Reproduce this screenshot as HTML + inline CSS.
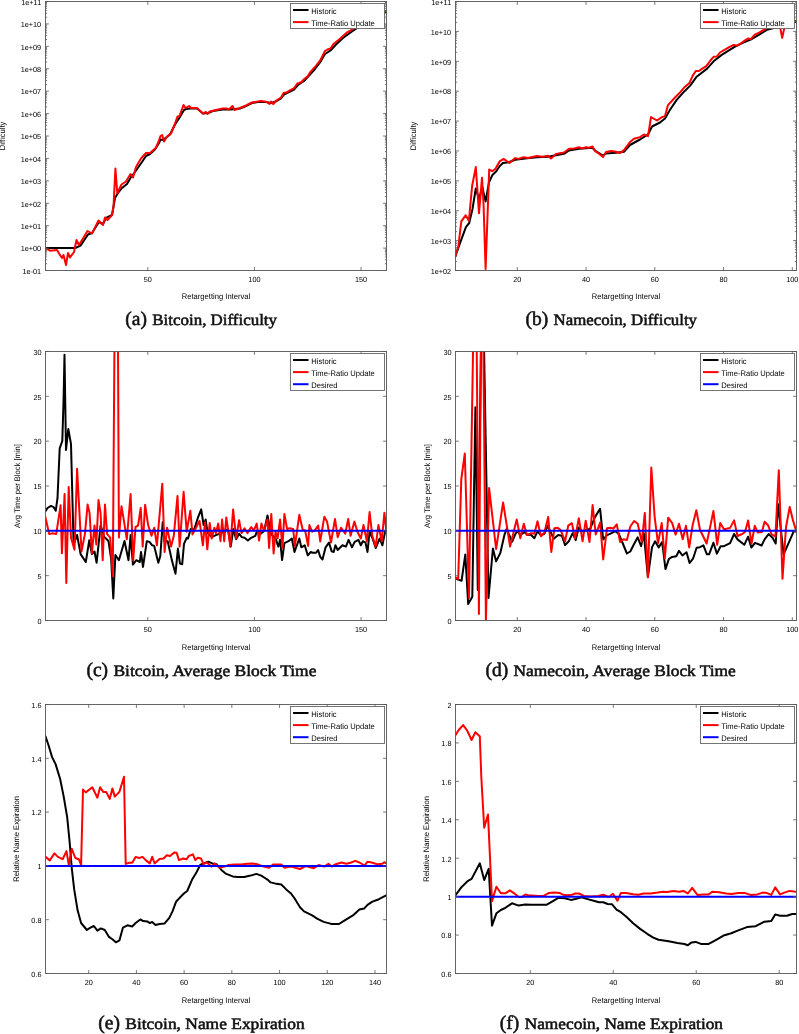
<!DOCTYPE html><html><head><meta charset="utf-8"><style>html,body{margin:0;padding:0;background:#fff;}svg{display:block;will-change:transform}text{font-family:"Liberation Sans",sans-serif;text-rendering:geometricPrecision}</style></head><body>
<svg width="799" height="1034" viewBox="0 0 799 1034">
<rect width="799" height="1034" fill="#fff"/>
<clipPath id="clipa"><rect x="45.5" y="1.5" width="341.0" height="269.0"/></clipPath>
<text x="41.20" y="273.80" font-size="7.4" text-anchor="end" textLength="18.67" lengthAdjust="spacingAndGlyphs" fill="#000">1e-01</text>
<text x="41.20" y="251.38" font-size="7.4" text-anchor="end" textLength="20.50" lengthAdjust="spacingAndGlyphs" fill="#000">1e+00</text>
<text x="41.20" y="228.97" font-size="7.4" text-anchor="end" textLength="20.50" lengthAdjust="spacingAndGlyphs" fill="#000">1e+01</text>
<text x="41.20" y="206.55" font-size="7.4" text-anchor="end" textLength="20.50" lengthAdjust="spacingAndGlyphs" fill="#000">1e+02</text>
<text x="41.20" y="184.13" font-size="7.4" text-anchor="end" textLength="20.50" lengthAdjust="spacingAndGlyphs" fill="#000">1e+03</text>
<text x="41.20" y="161.72" font-size="7.4" text-anchor="end" textLength="20.50" lengthAdjust="spacingAndGlyphs" fill="#000">1e+04</text>
<text x="41.20" y="139.30" font-size="7.4" text-anchor="end" textLength="20.50" lengthAdjust="spacingAndGlyphs" fill="#000">1e+05</text>
<text x="41.20" y="116.88" font-size="7.4" text-anchor="end" textLength="20.50" lengthAdjust="spacingAndGlyphs" fill="#000">1e+06</text>
<text x="41.20" y="94.47" font-size="7.4" text-anchor="end" textLength="20.50" lengthAdjust="spacingAndGlyphs" fill="#000">1e+07</text>
<text x="41.20" y="72.05" font-size="7.4" text-anchor="end" textLength="20.50" lengthAdjust="spacingAndGlyphs" fill="#000">1e+08</text>
<text x="41.20" y="49.63" font-size="7.4" text-anchor="end" textLength="20.50" lengthAdjust="spacingAndGlyphs" fill="#000">1e+09</text>
<text x="41.20" y="27.22" font-size="7.4" text-anchor="end" textLength="20.50" lengthAdjust="spacingAndGlyphs" fill="#000">1e+10</text>
<text x="41.20" y="4.80" font-size="7.4" text-anchor="end" textLength="19.96" lengthAdjust="spacingAndGlyphs" fill="#000">1e+11</text>
<text x="147.80" y="282.40" font-size="7.4" text-anchor="middle" textLength="8.12" lengthAdjust="spacingAndGlyphs" fill="#000">50</text>
<text x="254.43" y="282.40" font-size="7.4" text-anchor="middle" textLength="12.18" lengthAdjust="spacingAndGlyphs" fill="#000">100</text>
<text x="361.05" y="282.40" font-size="7.4" text-anchor="middle" textLength="12.18" lengthAdjust="spacingAndGlyphs" fill="#000">150</text>
<text x="216.00" y="298.60" font-size="8.0" text-anchor="middle" textLength="68.43" lengthAdjust="spacingAndGlyphs" fill="#000">Retargetting Interval</text>
<text transform="translate(5.1,136.00) rotate(-90)" font-size="8.0" text-anchor="middle" textLength="28.58" lengthAdjust="spacingAndGlyphs" fill="#000">Difficulty</text>
<g clip-path="url(#clipa)" fill="none" stroke-width="2" stroke-linejoin="round" stroke-linecap="round"><polyline stroke="#000" points="45.3,248.0 75.3,248.0 80.5,245.6 88.0,234.5 92.0,233.0 99.0,222.0 103.0,224.0 106.0,218.0 112.0,215.0 115.0,198.0 118.0,193.0 122.0,188.0 127.0,184.0 131.0,177.0 135.0,172.0 142.0,162.0 146.0,156.0 150.0,154.0 155.0,149.5 159.0,143.0 160.5,139.5 163.0,140.0 170.0,134.5 175.0,124.5 179.0,118.5 184.0,110.0 186.0,109.0 190.0,108.5 197.0,108.5 203.0,113.5 208.0,113.0 213.0,111.0 222.5,109.5 230.0,109.5 240.0,108.5 246.0,106.0 252.0,103.0 258.0,102.0 266.0,102.0 271.0,103.0 276.0,101.5 281.0,98.5 284.0,94.5 290.0,91.5 294.0,89.5 298.0,85.0 304.0,81.0 310.0,74.5 315.0,69.0 320.0,62.5 325.0,54.0 330.5,50.5 336.0,44.5 343.0,38.0 350.5,32.5 355.0,29.5 370.0,19.0 386.5,11.5"/><polyline stroke="#f00" points="45.3,248.0 50.0,250.7 57.0,250.0 60.0,255.0 62.0,258.0 63.5,255.0 66.0,265.0 68.0,253.0 70.0,257.5 74.0,252.0 76.5,240.0 79.0,245.0 87.5,231.0 92.0,233.5 98.5,220.5 103.0,225.0 105.0,217.5 107.5,220.0 112.0,215.0 113.5,207.0 115.4,168.5 117.3,193.3 121.5,184.5 126.0,181.5 130.5,174.0 133.0,177.5 136.0,167.0 141.0,158.5 146.0,153.0 150.0,153.0 155.7,148.0 158.0,143.0 160.5,136.0 162.2,135.0 164.0,141.5 167.0,136.5 171.0,133.5 174.5,125.0 177.5,116.5 179.5,116.0 183.5,105.0 185.5,108.0 189.0,106.0 191.0,108.0 197.0,108.0 203.0,113.5 206.0,112.0 207.5,114.0 210.0,111.5 216.0,110.0 222.5,108.5 226.5,108.5 229.0,109.5 232.5,106.0 234.5,110.0 240.0,108.0 246.0,105.5 252.0,102.5 258.0,101.5 261.0,101.0 266.3,101.7 269.5,104.0 271.0,101.5 273.3,104.0 276.3,100.5 281.0,97.6 283.8,92.7 286.3,92.7 290.0,90.3 294.0,88.2 297.3,83.5 299.0,83.0 301.5,82.0 304.0,79.3 308.0,76.0 310.0,72.4 315.0,67.0 320.0,60.7 323.0,55.0 325.0,51.0 327.5,49.5 330.5,48.5 333.5,44.0 336.0,42.0 340.0,38.7 343.0,36.0 347.0,32.5 350.5,30.6 353.0,28.5 360.0,24.0 370.0,18.0 380.0,13.0 386.5,11.0"/></g>
<path d="M45.5,270.50h3.4M386.5,270.50h-3.4M45.5,263.75h1.6M386.5,263.75h-1.6M45.5,259.80h1.6M386.5,259.80h-1.6M45.5,257.00h1.6M386.5,257.00h-1.6M45.5,254.83h1.6M386.5,254.83h-1.6M45.5,253.06h1.6M386.5,253.06h-1.6M45.5,251.56h1.6M386.5,251.56h-1.6M45.5,250.26h1.6M386.5,250.26h-1.6M45.5,249.11h1.6M386.5,249.11h-1.6M45.5,248.08h3.4M386.5,248.08h-3.4M45.5,241.34h1.6M386.5,241.34h-1.6M45.5,237.39h1.6M386.5,237.39h-1.6M45.5,234.59h1.6M386.5,234.59h-1.6M45.5,232.41h1.6M386.5,232.41h-1.6M45.5,230.64h1.6M386.5,230.64h-1.6M45.5,229.14h1.6M386.5,229.14h-1.6M45.5,227.84h1.6M386.5,227.84h-1.6M45.5,226.69h1.6M386.5,226.69h-1.6M45.5,225.67h3.4M386.5,225.67h-3.4M45.5,218.92h1.6M386.5,218.92h-1.6M45.5,214.97h1.6M386.5,214.97h-1.6M45.5,212.17h1.6M386.5,212.17h-1.6M45.5,210.00h1.6M386.5,210.00h-1.6M45.5,208.22h1.6M386.5,208.22h-1.6M45.5,206.72h1.6M386.5,206.72h-1.6M45.5,205.42h1.6M386.5,205.42h-1.6M45.5,204.28h1.6M386.5,204.28h-1.6M45.5,203.25h3.4M386.5,203.25h-3.4M45.5,196.50h1.6M386.5,196.50h-1.6M45.5,192.55h1.6M386.5,192.55h-1.6M45.5,189.75h1.6M386.5,189.75h-1.6M45.5,187.58h1.6M386.5,187.58h-1.6M45.5,185.81h1.6M386.5,185.81h-1.6M45.5,184.31h1.6M386.5,184.31h-1.6M45.5,183.01h1.6M386.5,183.01h-1.6M45.5,181.86h1.6M386.5,181.86h-1.6M45.5,180.83h3.4M386.5,180.83h-3.4M45.5,174.09h1.6M386.5,174.09h-1.6M45.5,170.14h1.6M386.5,170.14h-1.6M45.5,167.34h1.6M386.5,167.34h-1.6M45.5,165.16h1.6M386.5,165.16h-1.6M45.5,163.39h1.6M386.5,163.39h-1.6M45.5,161.89h1.6M386.5,161.89h-1.6M45.5,160.59h1.6M386.5,160.59h-1.6M45.5,159.44h1.6M386.5,159.44h-1.6M45.5,158.42h3.4M386.5,158.42h-3.4M45.5,151.67h1.6M386.5,151.67h-1.6M45.5,147.72h1.6M386.5,147.72h-1.6M45.5,144.92h1.6M386.5,144.92h-1.6M45.5,142.75h1.6M386.5,142.75h-1.6M45.5,140.97h1.6M386.5,140.97h-1.6M45.5,139.47h1.6M386.5,139.47h-1.6M45.5,138.17h1.6M386.5,138.17h-1.6M45.5,137.03h1.6M386.5,137.03h-1.6M45.5,136.00h3.4M386.5,136.00h-3.4M45.5,129.25h1.6M386.5,129.25h-1.6M45.5,125.30h1.6M386.5,125.30h-1.6M45.5,122.50h1.6M386.5,122.50h-1.6M45.5,120.33h1.6M386.5,120.33h-1.6M45.5,118.56h1.6M386.5,118.56h-1.6M45.5,117.06h1.6M386.5,117.06h-1.6M45.5,115.76h1.6M386.5,115.76h-1.6M45.5,114.61h1.6M386.5,114.61h-1.6M45.5,113.58h3.4M386.5,113.58h-3.4M45.5,106.84h1.6M386.5,106.84h-1.6M45.5,102.89h1.6M386.5,102.89h-1.6M45.5,100.09h1.6M386.5,100.09h-1.6M45.5,97.91h1.6M386.5,97.91h-1.6M45.5,96.14h1.6M386.5,96.14h-1.6M45.5,94.64h1.6M386.5,94.64h-1.6M45.5,93.34h1.6M386.5,93.34h-1.6M45.5,92.19h1.6M386.5,92.19h-1.6M45.5,91.17h3.4M386.5,91.17h-3.4M45.5,84.42h1.6M386.5,84.42h-1.6M45.5,80.47h1.6M386.5,80.47h-1.6M45.5,77.67h1.6M386.5,77.67h-1.6M45.5,75.50h1.6M386.5,75.50h-1.6M45.5,73.72h1.6M386.5,73.72h-1.6M45.5,72.22h1.6M386.5,72.22h-1.6M45.5,70.92h1.6M386.5,70.92h-1.6M45.5,69.78h1.6M386.5,69.78h-1.6M45.5,68.75h3.4M386.5,68.75h-3.4M45.5,62.00h1.6M386.5,62.00h-1.6M45.5,58.05h1.6M386.5,58.05h-1.6M45.5,55.25h1.6M386.5,55.25h-1.6M45.5,53.08h1.6M386.5,53.08h-1.6M45.5,51.31h1.6M386.5,51.31h-1.6M45.5,49.81h1.6M386.5,49.81h-1.6M45.5,48.51h1.6M386.5,48.51h-1.6M45.5,47.36h1.6M386.5,47.36h-1.6M45.5,46.33h3.4M386.5,46.33h-3.4M45.5,39.59h1.6M386.5,39.59h-1.6M45.5,35.64h1.6M386.5,35.64h-1.6M45.5,32.84h1.6M386.5,32.84h-1.6M45.5,30.66h1.6M386.5,30.66h-1.6M45.5,28.89h1.6M386.5,28.89h-1.6M45.5,27.39h1.6M386.5,27.39h-1.6M45.5,26.09h1.6M386.5,26.09h-1.6M45.5,24.94h1.6M386.5,24.94h-1.6M45.5,23.92h3.4M386.5,23.92h-3.4M45.5,17.17h1.6M386.5,17.17h-1.6M45.5,13.22h1.6M386.5,13.22h-1.6M45.5,10.42h1.6M386.5,10.42h-1.6M45.5,8.25h1.6M386.5,8.25h-1.6M45.5,6.47h1.6M386.5,6.47h-1.6M45.5,4.97h1.6M386.5,4.97h-1.6M45.5,3.67h1.6M386.5,3.67h-1.6M45.5,2.53h1.6M386.5,2.53h-1.6M45.5,1.50h3.4M386.5,1.50h-3.4M147.80,270.5v-3.4M147.80,1.5v3.4M254.43,270.5v-3.4M254.43,1.5v3.4M361.05,270.5v-3.4M361.05,1.5v3.4" stroke="#555" stroke-width="0.8" fill="none"/>
<rect x="45.5" y="1.5" width="341.0" height="269.0" fill="none" stroke="#555" stroke-width="0.9"/>
<rect x="290.5" y="3.5" width="94.0" height="25.0" fill="#fff" stroke="#666" stroke-width="0.9"/>
<line x1="293.0" y1="10.00" x2="308.5" y2="10.00" stroke="#000" stroke-width="2"/>
<text x="311.30" y="13.50" font-size="8.0" text-anchor="start" textLength="25.33" lengthAdjust="spacingAndGlyphs" fill="#000">Historic</text>
<line x1="293.0" y1="22.10" x2="308.5" y2="22.10" stroke="#f00" stroke-width="2"/>
<text x="311.30" y="25.60" font-size="8.0" text-anchor="start" textLength="63.49" lengthAdjust="spacingAndGlyphs" fill="#000">Time-Ratio Update</text>
<clipPath id="clipb"><rect x="455.5" y="1.5" width="341.0" height="269.0"/></clipPath>
<text x="451.20" y="273.80" font-size="7.4" text-anchor="end" textLength="20.50" lengthAdjust="spacingAndGlyphs" fill="#000">1e+02</text>
<text x="451.20" y="243.91" font-size="7.4" text-anchor="end" textLength="20.50" lengthAdjust="spacingAndGlyphs" fill="#000">1e+03</text>
<text x="451.20" y="214.02" font-size="7.4" text-anchor="end" textLength="20.50" lengthAdjust="spacingAndGlyphs" fill="#000">1e+04</text>
<text x="451.20" y="184.13" font-size="7.4" text-anchor="end" textLength="20.50" lengthAdjust="spacingAndGlyphs" fill="#000">1e+05</text>
<text x="451.20" y="154.24" font-size="7.4" text-anchor="end" textLength="20.50" lengthAdjust="spacingAndGlyphs" fill="#000">1e+06</text>
<text x="451.20" y="124.36" font-size="7.4" text-anchor="end" textLength="20.50" lengthAdjust="spacingAndGlyphs" fill="#000">1e+07</text>
<text x="451.20" y="94.47" font-size="7.4" text-anchor="end" textLength="20.50" lengthAdjust="spacingAndGlyphs" fill="#000">1e+08</text>
<text x="451.20" y="64.58" font-size="7.4" text-anchor="end" textLength="20.50" lengthAdjust="spacingAndGlyphs" fill="#000">1e+09</text>
<text x="451.20" y="34.69" font-size="7.4" text-anchor="end" textLength="20.50" lengthAdjust="spacingAndGlyphs" fill="#000">1e+10</text>
<text x="451.20" y="4.80" font-size="7.4" text-anchor="end" textLength="19.96" lengthAdjust="spacingAndGlyphs" fill="#000">1e+11</text>
<text x="517.30" y="282.40" font-size="7.4" text-anchor="middle" textLength="8.12" lengthAdjust="spacingAndGlyphs" fill="#000">20</text>
<text x="586.05" y="282.40" font-size="7.4" text-anchor="middle" textLength="8.12" lengthAdjust="spacingAndGlyphs" fill="#000">40</text>
<text x="654.80" y="282.40" font-size="7.4" text-anchor="middle" textLength="8.12" lengthAdjust="spacingAndGlyphs" fill="#000">60</text>
<text x="723.55" y="282.40" font-size="7.4" text-anchor="middle" textLength="8.12" lengthAdjust="spacingAndGlyphs" fill="#000">80</text>
<text x="792.30" y="282.40" font-size="7.4" text-anchor="middle" textLength="12.18" lengthAdjust="spacingAndGlyphs" fill="#000">100</text>
<text x="626.00" y="298.60" font-size="8.0" text-anchor="middle" textLength="68.43" lengthAdjust="spacingAndGlyphs" fill="#000">Retargetting Interval</text>
<text transform="translate(416.0,136.00) rotate(-90)" font-size="8.0" text-anchor="middle" textLength="28.58" lengthAdjust="spacingAndGlyphs" fill="#000">Difficulty</text>
<g clip-path="url(#clipb)" fill="none" stroke-width="2" stroke-linejoin="round" stroke-linecap="round"><polyline stroke="#000" points="455.2,256.7 459.3,245.2 465.9,227.1 469.2,223.0 472.5,209.0 475.8,188.5 479.0,199.2 482.3,186.9 485.6,201.6 488.9,182.7 492.2,175.3 496.3,171.2 499.6,166.3 502.9,163.0 508.6,162.2 515.2,159.7 525.1,158.6 537.0,157.2 548.0,156.7 556.0,155.3 564.0,153.8 569.0,150.5 579.0,148.8 592.5,147.8 595.0,150.5 603.0,155.5 606.0,153.5 616.0,152.8 624.0,151.8 630.0,145.0 640.0,139.5 648.0,134.5 652.0,126.5 660.0,122.5 665.0,118.5 670.0,109.8 676.5,100.1 684.5,91.2 690.2,85.6 696.6,76.7 707.1,68.6 713.6,61.3 721.7,54.9 734.6,46.8 742.7,42.8 750.7,39.6 760.4,33.9 766.9,29.9 776.6,27.4 786.2,25.0 796.5,21.5"/><polyline stroke="#f00" points="455.2,256.7 458.5,245.2 461.3,221.4 465.6,215.3 468.9,220.6 472.1,186.0 475.8,167.1 479.0,213.2 482.0,177.8 483.6,205.8 485.6,269.0 487.3,222.2 489.2,169.6 492.2,171.2 495.5,168.8 499.6,161.4 503.7,158.9 509.5,163.0 515.2,158.1 518.5,158.9 523.4,157.3 528.0,158.1 537.0,156.1 542.0,156.7 548.0,155.7 551.0,158.5 556.0,154.1 564.0,152.5 569.0,148.7 574.0,148.5 579.0,147.3 582.0,148.5 586.0,147.3 589.0,147.7 592.5,146.5 595.0,151.1 599.0,153.7 603.0,157.1 606.0,152.1 611.0,151.1 616.0,151.7 620.0,153.1 624.0,150.1 630.0,142.1 634.0,138.7 640.0,137.1 644.0,134.5 648.0,136.1 651.0,117.1 657.0,120.5 662.0,117.1 665.0,116.1 668.0,105.1 674.8,97.7 679.7,92.8 684.5,87.2 689.4,83.1 692.6,75.9 695.8,71.0 699.0,71.0 702.3,68.6 706.3,66.2 710.4,60.5 713.6,56.8 716.8,56.5 720.0,52.5 724.9,49.7 729.7,46.8 733.8,44.9 737.0,45.7 741.0,43.3 745.1,40.4 748.3,38.4 750.7,39.1 754.8,34.7 759.6,32.3 763.6,29.9 766.9,27.8 779.8,25.8 782.2,37.9 784.6,26.6 794.3,21.0 796.5,21.0"/></g>
<path d="M455.5,270.50h3.4M796.5,270.50h-3.4M455.5,261.50h1.6M796.5,261.50h-1.6M455.5,256.24h1.6M796.5,256.24h-1.6M455.5,252.51h1.6M796.5,252.51h-1.6M455.5,249.61h1.6M796.5,249.61h-1.6M455.5,247.24h1.6M796.5,247.24h-1.6M455.5,245.24h1.6M796.5,245.24h-1.6M455.5,243.51h1.6M796.5,243.51h-1.6M455.5,241.98h1.6M796.5,241.98h-1.6M455.5,240.61h3.4M796.5,240.61h-3.4M455.5,231.61h1.6M796.5,231.61h-1.6M455.5,226.35h1.6M796.5,226.35h-1.6M455.5,222.62h1.6M796.5,222.62h-1.6M455.5,219.72h1.6M796.5,219.72h-1.6M455.5,217.35h1.6M796.5,217.35h-1.6M455.5,215.35h1.6M796.5,215.35h-1.6M455.5,213.62h1.6M796.5,213.62h-1.6M455.5,212.09h1.6M796.5,212.09h-1.6M455.5,210.72h3.4M796.5,210.72h-3.4M455.5,201.72h1.6M796.5,201.72h-1.6M455.5,196.46h1.6M796.5,196.46h-1.6M455.5,192.73h1.6M796.5,192.73h-1.6M455.5,189.83h1.6M796.5,189.83h-1.6M455.5,187.46h1.6M796.5,187.46h-1.6M455.5,185.46h1.6M796.5,185.46h-1.6M455.5,183.73h1.6M796.5,183.73h-1.6M455.5,182.20h1.6M796.5,182.20h-1.6M455.5,180.83h3.4M796.5,180.83h-3.4M455.5,171.84h1.6M796.5,171.84h-1.6M455.5,166.57h1.6M796.5,166.57h-1.6M455.5,162.84h1.6M796.5,162.84h-1.6M455.5,159.94h1.6M796.5,159.94h-1.6M455.5,157.58h1.6M796.5,157.58h-1.6M455.5,155.57h1.6M796.5,155.57h-1.6M455.5,153.84h1.6M796.5,153.84h-1.6M455.5,152.31h1.6M796.5,152.31h-1.6M455.5,150.94h3.4M796.5,150.94h-3.4M455.5,141.95h1.6M796.5,141.95h-1.6M455.5,136.68h1.6M796.5,136.68h-1.6M455.5,132.95h1.6M796.5,132.95h-1.6M455.5,130.05h1.6M796.5,130.05h-1.6M455.5,127.69h1.6M796.5,127.69h-1.6M455.5,125.69h1.6M796.5,125.69h-1.6M455.5,123.95h1.6M796.5,123.95h-1.6M455.5,122.42h1.6M796.5,122.42h-1.6M455.5,121.06h3.4M796.5,121.06h-3.4M455.5,112.06h1.6M796.5,112.06h-1.6M455.5,106.79h1.6M796.5,106.79h-1.6M455.5,103.06h1.6M796.5,103.06h-1.6M455.5,100.16h1.6M796.5,100.16h-1.6M455.5,97.80h1.6M796.5,97.80h-1.6M455.5,95.80h1.6M796.5,95.80h-1.6M455.5,94.06h1.6M796.5,94.06h-1.6M455.5,92.53h1.6M796.5,92.53h-1.6M455.5,91.17h3.4M796.5,91.17h-3.4M455.5,82.17h1.6M796.5,82.17h-1.6M455.5,76.91h1.6M796.5,76.91h-1.6M455.5,73.17h1.6M796.5,73.17h-1.6M455.5,70.28h1.6M796.5,70.28h-1.6M455.5,67.91h1.6M796.5,67.91h-1.6M455.5,65.91h1.6M796.5,65.91h-1.6M455.5,64.17h1.6M796.5,64.17h-1.6M455.5,62.65h1.6M796.5,62.65h-1.6M455.5,61.28h3.4M796.5,61.28h-3.4M455.5,52.28h1.6M796.5,52.28h-1.6M455.5,47.02h1.6M796.5,47.02h-1.6M455.5,43.28h1.6M796.5,43.28h-1.6M455.5,40.39h1.6M796.5,40.39h-1.6M455.5,38.02h1.6M796.5,38.02h-1.6M455.5,36.02h1.6M796.5,36.02h-1.6M455.5,34.29h1.6M796.5,34.29h-1.6M455.5,32.76h1.6M796.5,32.76h-1.6M455.5,31.39h3.4M796.5,31.39h-3.4M455.5,22.39h1.6M796.5,22.39h-1.6M455.5,17.13h1.6M796.5,17.13h-1.6M455.5,13.39h1.6M796.5,13.39h-1.6M455.5,10.50h1.6M796.5,10.50h-1.6M455.5,8.13h1.6M796.5,8.13h-1.6M455.5,6.13h1.6M796.5,6.13h-1.6M455.5,4.40h1.6M796.5,4.40h-1.6M455.5,2.87h1.6M796.5,2.87h-1.6M455.5,1.50h3.4M796.5,1.50h-3.4M517.30,270.5v-3.4M517.30,1.5v3.4M586.05,270.5v-3.4M586.05,1.5v3.4M654.80,270.5v-3.4M654.80,1.5v3.4M723.55,270.5v-3.4M723.55,1.5v3.4M792.30,270.5v-3.4M792.30,1.5v3.4" stroke="#555" stroke-width="0.8" fill="none"/>
<rect x="455.5" y="1.5" width="341.0" height="269.0" fill="none" stroke="#555" stroke-width="0.9"/>
<rect x="700.5" y="3.5" width="94.0" height="25.0" fill="#fff" stroke="#666" stroke-width="0.9"/>
<line x1="703.0" y1="10.00" x2="718.5" y2="10.00" stroke="#000" stroke-width="2"/>
<text x="721.30" y="13.50" font-size="8.0" text-anchor="start" textLength="25.33" lengthAdjust="spacingAndGlyphs" fill="#000">Historic</text>
<line x1="703.0" y1="22.10" x2="718.5" y2="22.10" stroke="#f00" stroke-width="2"/>
<text x="721.30" y="25.60" font-size="8.0" text-anchor="start" textLength="63.49" lengthAdjust="spacingAndGlyphs" fill="#000">Time-Ratio Update</text>
<clipPath id="clipc"><rect x="45.5" y="351.5" width="341.0" height="269.0"/></clipPath>
<text x="41.50" y="623.80" font-size="7.4" text-anchor="end" textLength="4.06" lengthAdjust="spacingAndGlyphs" fill="#000">0</text>
<text x="41.50" y="578.97" font-size="7.4" text-anchor="end" textLength="4.06" lengthAdjust="spacingAndGlyphs" fill="#000">5</text>
<text x="41.50" y="534.13" font-size="7.4" text-anchor="end" textLength="8.12" lengthAdjust="spacingAndGlyphs" fill="#000">10</text>
<text x="41.50" y="489.30" font-size="7.4" text-anchor="end" textLength="8.12" lengthAdjust="spacingAndGlyphs" fill="#000">15</text>
<text x="41.50" y="444.47" font-size="7.4" text-anchor="end" textLength="8.12" lengthAdjust="spacingAndGlyphs" fill="#000">20</text>
<text x="41.50" y="399.63" font-size="7.4" text-anchor="end" textLength="8.12" lengthAdjust="spacingAndGlyphs" fill="#000">25</text>
<text x="41.50" y="354.80" font-size="7.4" text-anchor="end" textLength="8.12" lengthAdjust="spacingAndGlyphs" fill="#000">30</text>
<text x="147.80" y="632.40" font-size="7.4" text-anchor="middle" textLength="8.12" lengthAdjust="spacingAndGlyphs" fill="#000">50</text>
<text x="254.43" y="632.40" font-size="7.4" text-anchor="middle" textLength="12.18" lengthAdjust="spacingAndGlyphs" fill="#000">100</text>
<text x="361.05" y="632.40" font-size="7.4" text-anchor="middle" textLength="12.18" lengthAdjust="spacingAndGlyphs" fill="#000">150</text>
<text x="216.00" y="650.20" font-size="8.0" text-anchor="middle" textLength="68.43" lengthAdjust="spacingAndGlyphs" fill="#000">Retargetting Interval</text>
<text transform="translate(20.4,486.00) rotate(-90)" font-size="8.0" text-anchor="middle" textLength="83.91" lengthAdjust="spacingAndGlyphs" fill="#000">Avg Time per Block [min]</text>
<g clip-path="url(#clipc)" fill="none" stroke-width="2" stroke-linejoin="round" stroke-linecap="round"><polyline stroke="#000" points="45.3,511.4 47.5,508.0 51.0,505.9 53.6,507.1 55.8,510.6 57.5,498.0 59.7,448.4 62.3,441.0 63.5,402.0 64.5,354.7 66.0,450.0 68.3,429.0 71.0,444.0 73.6,544.5 77.1,535.0 80.6,554.1 85.8,562.0 89.3,540.2 91.9,554.1 94.5,551.5 96.6,562.8 100.6,525.4 104.1,536.7 108.5,541.0 111.1,558.5 113.3,598.5 115.4,555.0 118.9,560.2 124.5,541.0 128.5,560.2 130.6,535.0 132.9,564.6 136.3,560.2 139.8,562.0 141.0,552.0 143.0,566.9 146.8,541.2 149.5,541.9 152.2,545.3 154.2,545.9 158.3,562.8 160.3,556.1 162.7,522.2 164.4,541.2 167.7,541.2 171.8,560.1 175.5,573.7 177.9,548.6 179.9,563.5 182.2,564.2 184.0,543.9 186.7,537.8 188.0,538.5 190.7,529.0 194.1,529.7 198.2,516.8 201.2,509.4 203.6,525.0 205.6,519.5 207.7,533.1 211.7,537.1 215.8,535.1 221.2,533.1 228.0,529.0 230.7,546.6 233.4,529.0 236.1,539.2 239.1,533.7 241.8,537.1 244.5,537.8 247.9,540.5 251.2,537.8 255.3,535.8 257.3,530.4 260.7,533.7 264.1,531.0 267.5,515.5 270.9,533.7 275.6,538.5 278.3,546.6 280.1,539.8 282.1,560.1 284.4,543.2 288.5,541.2 291.8,538.5 294.5,552.0 299.3,538.5 301.3,547.3 304.7,545.3 307.8,555.4 310.8,552.0 312.7,552.7 316.2,552.7 318.1,550.0 320.2,556.8 322.5,559.5 325.6,547.3 329.0,542.6 331.7,551.4 333.7,552.0 335.4,545.3 337.7,550.0 342.5,545.3 345.9,546.6 348.6,539.9 352.0,547.3 354.7,541.9 358.5,539.9 360.8,545.3 362.8,541.2 365.5,542.6 367.5,552.0 369.6,531.7 372.3,537.8 375.7,548.0 379.7,538.5 382.4,545.3 385.1,531.7 386.5,531.1"/><polyline stroke="#f00" points="45.3,516.7 49.2,534.1 52.7,533.2 56.2,534.1 60.6,505.3 61.9,553.2 64.6,494.0 66.3,582.9 68.7,487.0 71.0,537.6 74.5,549.8 77.1,468.7 81.5,551.5 84.9,534.1 87.6,504.5 89.6,513.2 91.9,553.2 94.5,525.4 96.3,544.5 98.5,500.1 100.6,513.2 102.7,560.2 105.0,504.5 107.1,534.1 110.2,537.6 112.8,575.9 115.5,200.0 117.3,200.0 118.9,537.6 121.5,506.2 124.1,521.9 126.8,539.3 130.6,494.0 133.2,560.2 135.5,527.1 138.1,525.4 140.7,507.9 142.7,546.6 145.1,504.7 148.1,525.0 151.5,535.8 154.2,527.7 156.9,545.3 162.3,483.7 164.6,552.0 167.1,527.7 171.1,546.6 173.8,535.8 177.5,495.9 179.6,546.6 183.6,491.8 186.7,531.7 190.3,510.7 192.5,534.4 196.8,526.3 199.5,520.9 202.9,545.3 205.0,522.2 207.3,549.3 209.7,522.9 211.7,538.5 214.4,527.7 216.0,533.1 218.2,523.6 220.5,541.2 222.1,519.5 224.2,541.2 226.3,517.5 230.4,546.6 233.1,509.4 236.2,538.5 239.1,520.2 241.5,533.1 244.5,528.3 247.4,533.1 251.2,527.0 253.9,530.4 256.7,523.6 259.1,540.5 261.4,523.6 264.1,531.0 267.5,519.5 269.1,548.0 271.3,514.1 273.6,553.4 275.6,531.7 277.6,538.5 280.1,519.5 282.4,548.0 284.4,514.1 287.1,529.0 289.8,528.3 293.2,529.0 294.8,546.6 299.3,514.8 302.7,529.7 305.1,530.4 308.1,545.9 309.4,525.0 312.1,531.7 314.8,530.4 318.2,525.6 320.2,541.5 324.3,516.8 327.0,521.5 331.0,542.5 335.0,518.9 337.7,537.2 341.1,527.7 345.2,533.8 348.2,518.9 350.6,535.8 354.4,521.6 357.4,531.7 360.8,538.5 363.5,525.0 366.9,541.2 369.6,512.1 372.3,535.8 375.7,546.6 378.4,525.0 381.7,541.2 384.4,512.8 386.5,532.4"/><line stroke="#00f" stroke-linecap="butt" x1="45.5" y1="530.83" x2="386.5" y2="530.83"/></g>
<path d="M45.5,620.50h3.4M386.5,620.50h-3.4M45.5,575.67h3.4M386.5,575.67h-3.4M45.5,530.83h3.4M386.5,530.83h-3.4M45.5,486.00h3.4M386.5,486.00h-3.4M45.5,441.17h3.4M386.5,441.17h-3.4M45.5,396.33h3.4M386.5,396.33h-3.4M45.5,351.50h3.4M386.5,351.50h-3.4M147.80,620.5v-3.4M147.80,351.5v3.4M254.43,620.5v-3.4M254.43,351.5v3.4M361.05,620.5v-3.4M361.05,351.5v3.4" stroke="#555" stroke-width="0.8" fill="none"/>
<rect x="45.5" y="351.5" width="341.0" height="269.0" fill="none" stroke="#555" stroke-width="0.9"/>
<rect x="290.5" y="353.5" width="94.0" height="37.0" fill="#fff" stroke="#666" stroke-width="0.9"/>
<line x1="293.0" y1="360.00" x2="308.5" y2="360.00" stroke="#000" stroke-width="2"/>
<text x="311.30" y="363.50" font-size="8.0" text-anchor="start" textLength="25.33" lengthAdjust="spacingAndGlyphs" fill="#000">Historic</text>
<line x1="293.0" y1="372.10" x2="308.5" y2="372.10" stroke="#f00" stroke-width="2"/>
<text x="311.30" y="375.60" font-size="8.0" text-anchor="start" textLength="63.49" lengthAdjust="spacingAndGlyphs" fill="#000">Time-Ratio Update</text>
<line x1="293.0" y1="384.20" x2="308.5" y2="384.20" stroke="#00f" stroke-width="2"/>
<text x="311.30" y="387.70" font-size="8.0" text-anchor="start" textLength="26.19" lengthAdjust="spacingAndGlyphs" fill="#000">Desired</text>
<clipPath id="clipd"><rect x="455.5" y="351.5" width="341.0" height="269.0"/></clipPath>
<text x="451.50" y="623.80" font-size="7.4" text-anchor="end" textLength="4.06" lengthAdjust="spacingAndGlyphs" fill="#000">0</text>
<text x="451.50" y="578.97" font-size="7.4" text-anchor="end" textLength="4.06" lengthAdjust="spacingAndGlyphs" fill="#000">5</text>
<text x="451.50" y="534.13" font-size="7.4" text-anchor="end" textLength="8.12" lengthAdjust="spacingAndGlyphs" fill="#000">10</text>
<text x="451.50" y="489.30" font-size="7.4" text-anchor="end" textLength="8.12" lengthAdjust="spacingAndGlyphs" fill="#000">15</text>
<text x="451.50" y="444.47" font-size="7.4" text-anchor="end" textLength="8.12" lengthAdjust="spacingAndGlyphs" fill="#000">20</text>
<text x="451.50" y="399.63" font-size="7.4" text-anchor="end" textLength="8.12" lengthAdjust="spacingAndGlyphs" fill="#000">25</text>
<text x="451.50" y="354.80" font-size="7.4" text-anchor="end" textLength="8.12" lengthAdjust="spacingAndGlyphs" fill="#000">30</text>
<text x="517.30" y="632.40" font-size="7.4" text-anchor="middle" textLength="8.12" lengthAdjust="spacingAndGlyphs" fill="#000">20</text>
<text x="586.05" y="632.40" font-size="7.4" text-anchor="middle" textLength="8.12" lengthAdjust="spacingAndGlyphs" fill="#000">40</text>
<text x="654.80" y="632.40" font-size="7.4" text-anchor="middle" textLength="8.12" lengthAdjust="spacingAndGlyphs" fill="#000">60</text>
<text x="723.55" y="632.40" font-size="7.4" text-anchor="middle" textLength="8.12" lengthAdjust="spacingAndGlyphs" fill="#000">80</text>
<text x="792.30" y="632.40" font-size="7.4" text-anchor="middle" textLength="12.18" lengthAdjust="spacingAndGlyphs" fill="#000">100</text>
<text x="626.00" y="650.20" font-size="8.0" text-anchor="middle" textLength="68.43" lengthAdjust="spacingAndGlyphs" fill="#000">Retargetting Interval</text>
<text transform="translate(430.4,486.00) rotate(-90)" font-size="8.0" text-anchor="middle" textLength="83.91" lengthAdjust="spacingAndGlyphs" fill="#000">Avg Time per Block [min]</text>
<g clip-path="url(#clipd)" fill="none" stroke-width="2" stroke-linejoin="round" stroke-linecap="round"><polyline stroke="#000" points="455.2,578.0 458.2,579.6 461.6,580.7 465.3,554.4 468.2,604.1 472.3,596.7 475.4,407.3 477.8,590.0 482.3,250.0 488.5,598.0 492.9,548.6 496.1,561.4 500.3,553.0 504.5,534.7 506.6,529.1 512.2,541.7 515.7,533.3 517.5,531.3 520.6,535.1 524.4,532.0 527.5,535.1 530.6,534.5 534.4,538.2 537.5,531.3 540.7,535.1 544.4,533.8 547.5,525.7 553.8,538.8 558.2,535.1 561.9,535.7 565.1,545.1 568.8,541.3 572.6,533.2 575.7,540.1 578.8,527.6 582.6,531.3 585.7,530.1 590.1,528.8 595.1,516.9 600.1,508.8 603.2,539.5 607.0,535.1 610.0,533.9 615.4,531.2 618.8,533.9 622.2,542.0 626.9,553.5 630.3,551.5 633.7,544.7 637.7,537.3 641.1,546.1 643.8,533.2 647.9,577.2 652.0,547.4 655.1,541.3 658.7,547.4 662.1,542.0 665.5,569.1 668.9,558.9 672.2,556.9 676.3,556.2 679.0,550.8 682.4,555.5 686.5,552.2 689.6,563.0 693.2,558.3 696.6,547.7 700.0,547.2 703.4,545.4 706.8,554.2 709.1,554.3 713.4,542.8 716.9,553.6 720.6,546.2 724.0,546.2 730.1,543.2 734.1,534.0 737.5,539.4 744.3,544.8 748.1,536.7 751.3,547.5 755.1,542.8 761.6,545.5 764.6,539.4 768.7,534.0 772.7,538.0 775.7,543.5 778.1,504.2 783.6,554.3 789.0,542.1 793.7,531.3 796.7,531.3"/><polyline stroke="#f00" points="455.2,577.0 458.2,579.0 461.3,479.0 464.8,453.4 469.0,598.0 475.5,200.0 478.9,614.0 482.0,200.0 485.9,621.0 489.1,488.0 496.1,549.0 503.1,502.4 510.1,546.6 516.7,519.4 520.3,538.2 523.8,523.8 526.9,535.1 531.3,533.2 534.4,533.8 537.5,521.3 541.0,536.3 544.4,532.6 548.2,516.9 551.3,552.0 554.4,528.2 557.6,527.8 560.7,530.1 565.1,541.3 568.2,525.7 571.9,523.2 575.1,538.2 578.8,518.2 582.6,541.3 585.7,520.7 589.5,542.0 592.6,505.0 595.7,534.5 600.1,522.6 603.2,559.5 607.0,528.2 610.1,527.8 613.4,528.5 616.8,524.4 620.1,542.0 623.5,539.3 626.9,540.0 630.3,526.5 634.1,521.0 637.7,523.7 641.8,542.0 644.8,512.9 647.9,577.2 651.3,467.6 654.7,517.7 658.0,543.4 661.7,523.1 664.8,558.3 668.2,517.7 672.2,523.1 675.6,534.6 679.0,523.7 682.7,539.3 686.0,525.8 689.2,547.4 692.5,525.8 696.3,510.2 700.0,529.8 706.6,543.5 710.4,525.8 713.4,510.9 717.2,544.8 720.2,523.1 724.0,529.2 730.1,527.9 734.1,520.4 737.5,536.0 742.2,534.0 745.0,532.0 748.1,520.4 751.5,543.5 754.8,525.8 757.8,532.6 761.9,532.0 764.6,521.8 768.0,525.2 771.4,534.0 775.4,536.7 778.8,470.3 782.5,578.7 786.0,527.2 789.7,506.9 793.0,520.4 796.7,532.6"/><line stroke="#00f" stroke-linecap="butt" x1="455.5" y1="530.83" x2="796.5" y2="530.83"/></g>
<path d="M455.5,620.50h3.4M796.5,620.50h-3.4M455.5,575.67h3.4M796.5,575.67h-3.4M455.5,530.83h3.4M796.5,530.83h-3.4M455.5,486.00h3.4M796.5,486.00h-3.4M455.5,441.17h3.4M796.5,441.17h-3.4M455.5,396.33h3.4M796.5,396.33h-3.4M455.5,351.50h3.4M796.5,351.50h-3.4M517.30,620.5v-3.4M517.30,351.5v3.4M586.05,620.5v-3.4M586.05,351.5v3.4M654.80,620.5v-3.4M654.80,351.5v3.4M723.55,620.5v-3.4M723.55,351.5v3.4M792.30,620.5v-3.4M792.30,351.5v3.4" stroke="#555" stroke-width="0.8" fill="none"/>
<rect x="455.5" y="351.5" width="341.0" height="269.0" fill="none" stroke="#555" stroke-width="0.9"/>
<rect x="700.5" y="353.5" width="94.0" height="37.0" fill="#fff" stroke="#666" stroke-width="0.9"/>
<line x1="703.0" y1="360.00" x2="718.5" y2="360.00" stroke="#000" stroke-width="2"/>
<text x="721.30" y="363.50" font-size="8.0" text-anchor="start" textLength="25.33" lengthAdjust="spacingAndGlyphs" fill="#000">Historic</text>
<line x1="703.0" y1="372.10" x2="718.5" y2="372.10" stroke="#f00" stroke-width="2"/>
<text x="721.30" y="375.60" font-size="8.0" text-anchor="start" textLength="63.49" lengthAdjust="spacingAndGlyphs" fill="#000">Time-Ratio Update</text>
<line x1="703.0" y1="384.20" x2="718.5" y2="384.20" stroke="#00f" stroke-width="2"/>
<text x="721.30" y="387.70" font-size="8.0" text-anchor="start" textLength="26.19" lengthAdjust="spacingAndGlyphs" fill="#000">Desired</text>
<clipPath id="clipe"><rect x="45.5" y="704.5" width="341.0" height="269.0"/></clipPath>
<text x="41.50" y="976.80" font-size="7.4" text-anchor="end" textLength="10.15" lengthAdjust="spacingAndGlyphs" fill="#000">0.6</text>
<text x="41.50" y="923.00" font-size="7.4" text-anchor="end" textLength="10.15" lengthAdjust="spacingAndGlyphs" fill="#000">0.8</text>
<text x="41.50" y="869.20" font-size="7.4" text-anchor="end" textLength="4.06" lengthAdjust="spacingAndGlyphs" fill="#000">1</text>
<text x="41.50" y="815.40" font-size="7.4" text-anchor="end" textLength="10.15" lengthAdjust="spacingAndGlyphs" fill="#000">1.2</text>
<text x="41.50" y="761.60" font-size="7.4" text-anchor="end" textLength="10.15" lengthAdjust="spacingAndGlyphs" fill="#000">1.4</text>
<text x="41.50" y="707.80" font-size="7.4" text-anchor="end" textLength="10.15" lengthAdjust="spacingAndGlyphs" fill="#000">1.6</text>
<text x="88.70" y="985.40" font-size="7.4" text-anchor="middle" textLength="8.12" lengthAdjust="spacingAndGlyphs" fill="#000">20</text>
<text x="136.42" y="985.40" font-size="7.4" text-anchor="middle" textLength="8.12" lengthAdjust="spacingAndGlyphs" fill="#000">40</text>
<text x="184.13" y="985.40" font-size="7.4" text-anchor="middle" textLength="8.12" lengthAdjust="spacingAndGlyphs" fill="#000">60</text>
<text x="231.85" y="985.40" font-size="7.4" text-anchor="middle" textLength="8.12" lengthAdjust="spacingAndGlyphs" fill="#000">80</text>
<text x="279.56" y="985.40" font-size="7.4" text-anchor="middle" textLength="12.18" lengthAdjust="spacingAndGlyphs" fill="#000">100</text>
<text x="327.28" y="985.40" font-size="7.4" text-anchor="middle" textLength="12.18" lengthAdjust="spacingAndGlyphs" fill="#000">120</text>
<text x="375.00" y="985.40" font-size="7.4" text-anchor="middle" textLength="12.18" lengthAdjust="spacingAndGlyphs" fill="#000">140</text>
<text x="216.00" y="1003.20" font-size="8.0" text-anchor="middle" textLength="68.43" lengthAdjust="spacingAndGlyphs" fill="#000">Retargetting Interval</text>
<text transform="translate(18.6,839.00) rotate(-90)" font-size="8.0" text-anchor="middle" textLength="85.74" lengthAdjust="spacingAndGlyphs" fill="#000">Relative Name Expiration</text>
<g clip-path="url(#clipe)" fill="none" stroke-width="2" stroke-linejoin="round" stroke-linecap="round"><polyline stroke="#000" points="45.5,736.2 48.6,745.5 52.1,757.1 55.6,764.1 60.2,779.2 63.7,796.6 67.2,817.4 69.5,840.6 71.8,868.5 74.2,889.4 77.6,910.3 81.1,923.0 86.9,930.0 90.4,927.7 93.9,926.0 97.4,930.7 100.8,928.4 104.8,930.0 109.0,936.9 112.4,939.3 115.9,942.3 119.4,940.4 122.9,927.7 127.5,925.3 132.2,926.5 135.6,923.0 140.3,919.5 143.3,921.1 147.3,921.4 149.8,923.1 152.2,921.9 155.5,924.9 159.5,924.0 164.4,923.6 169.3,917.9 172.5,911.4 176.1,901.6 180.7,896.7 183.9,893.5 187.2,891.0 192.1,879.6 196.1,873.1 200.2,865.0 203.5,863.4 208.3,861.7 212.4,863.4 216.5,864.2 221.4,869.9 226.2,873.9 232.7,876.4 237.6,876.9 244.1,876.9 250.6,875.6 256.3,873.9 261.2,875.6 265.0,878.0 267.4,879.6 270.7,882.4 274.8,883.4 281.3,884.5 286.2,889.4 291.0,893.5 295.1,899.2 300.0,907.3 304.0,911.4 312.2,915.4 317.1,918.7 323.6,921.9 328.5,923.1 331.7,924.0 339.0,924.0 344.7,920.3 352.9,915.4 359.4,909.4 364.3,908.4 367.5,904.8 372.4,901.6 378.9,899.2 386.2,895.4"/><polyline stroke="#f00" points="45.5,856.9 49.8,860.4 54.4,853.4 57.9,856.9 62.6,859.2 66.5,851.1 68.8,865.0 71.8,848.8 75.3,858.0 78.8,859.2 81.1,865.0 83.0,789.6 85.8,792.4 92.3,787.3 97.4,797.7 100.1,787.3 103.2,791.9 106.2,791.9 109.7,798.9 112.4,788.4 114.8,796.6 119.4,791.9 124.0,776.8 125.7,863.9 129.4,862.7 132.2,862.7 135.6,856.9 139.1,858.0 142.6,856.9 145.7,860.1 149.8,863.4 152.2,856.8 154.6,863.4 159.5,859.0 163.6,858.5 166.8,855.2 170.1,856.0 174.2,852.5 176.6,852.8 179.0,860.1 183.1,858.5 186.4,859.3 188.8,856.0 192.9,854.4 195.3,860.1 197.8,857.7 201.0,858.5 203.5,864.2 206.7,862.5 211.6,866.6 214.8,863.4 219.7,867.7 224.6,866.6 228.7,865.0 234.4,864.5 240.9,864.5 247.4,863.8 252.3,863.4 257.1,864.2 263.7,866.6 269.1,867.7 273.1,864.5 281.3,864.5 284.5,867.7 291.0,866.6 300.0,869.0 305.7,866.1 313.8,868.2 318.7,865.0 324.4,866.6 328.5,863.8 331.7,866.6 335.0,864.5 341.5,862.5 346.4,863.8 351.2,862.5 355.3,860.9 359.4,862.5 364.6,865.5 367.5,861.7 371.6,862.5 377.3,864.2 382.1,863.8 384.6,862.2 386.2,863.4"/><line stroke="#00f" stroke-linecap="butt" x1="45.5" y1="865.90" x2="386.5" y2="865.90"/></g>
<path d="M45.5,973.50h3.4M386.5,973.50h-3.4M45.5,919.70h3.4M386.5,919.70h-3.4M45.5,865.90h3.4M386.5,865.90h-3.4M45.5,812.10h3.4M386.5,812.10h-3.4M45.5,758.30h3.4M386.5,758.30h-3.4M45.5,704.50h3.4M386.5,704.50h-3.4M88.70,973.5v-3.4M88.70,704.5v3.4M136.42,973.5v-3.4M136.42,704.5v3.4M184.13,973.5v-3.4M184.13,704.5v3.4M231.85,973.5v-3.4M231.85,704.5v3.4M279.56,973.5v-3.4M279.56,704.5v3.4M327.28,973.5v-3.4M327.28,704.5v3.4M375.00,973.5v-3.4M375.00,704.5v3.4" stroke="#555" stroke-width="0.8" fill="none"/>
<rect x="45.5" y="704.5" width="341.0" height="269.0" fill="none" stroke="#555" stroke-width="0.9"/>
<rect x="290.5" y="706.5" width="94.0" height="37.0" fill="#fff" stroke="#666" stroke-width="0.9"/>
<line x1="293.0" y1="713.00" x2="308.5" y2="713.00" stroke="#000" stroke-width="2"/>
<text x="311.30" y="716.50" font-size="8.0" text-anchor="start" textLength="25.33" lengthAdjust="spacingAndGlyphs" fill="#000">Historic</text>
<line x1="293.0" y1="725.10" x2="308.5" y2="725.10" stroke="#f00" stroke-width="2"/>
<text x="311.30" y="728.60" font-size="8.0" text-anchor="start" textLength="63.49" lengthAdjust="spacingAndGlyphs" fill="#000">Time-Ratio Update</text>
<line x1="293.0" y1="737.20" x2="308.5" y2="737.20" stroke="#00f" stroke-width="2"/>
<text x="311.30" y="740.70" font-size="8.0" text-anchor="start" textLength="26.19" lengthAdjust="spacingAndGlyphs" fill="#000">Desired</text>
<clipPath id="clipf"><rect x="455.5" y="704.5" width="341.0" height="269.0"/></clipPath>
<text x="451.50" y="976.80" font-size="7.4" text-anchor="end" textLength="10.15" lengthAdjust="spacingAndGlyphs" fill="#000">0.6</text>
<text x="451.50" y="938.37" font-size="7.4" text-anchor="end" textLength="10.15" lengthAdjust="spacingAndGlyphs" fill="#000">0.8</text>
<text x="451.50" y="899.94" font-size="7.4" text-anchor="end" textLength="4.06" lengthAdjust="spacingAndGlyphs" fill="#000">1</text>
<text x="451.50" y="861.51" font-size="7.4" text-anchor="end" textLength="10.15" lengthAdjust="spacingAndGlyphs" fill="#000">1.2</text>
<text x="451.50" y="823.09" font-size="7.4" text-anchor="end" textLength="10.15" lengthAdjust="spacingAndGlyphs" fill="#000">1.4</text>
<text x="451.50" y="784.66" font-size="7.4" text-anchor="end" textLength="10.15" lengthAdjust="spacingAndGlyphs" fill="#000">1.6</text>
<text x="451.50" y="746.23" font-size="7.4" text-anchor="end" textLength="10.15" lengthAdjust="spacingAndGlyphs" fill="#000">1.8</text>
<text x="451.50" y="707.80" font-size="7.4" text-anchor="end" textLength="4.06" lengthAdjust="spacingAndGlyphs" fill="#000">2</text>
<text x="530.30" y="985.40" font-size="7.4" text-anchor="middle" textLength="8.12" lengthAdjust="spacingAndGlyphs" fill="#000">20</text>
<text x="613.27" y="985.40" font-size="7.4" text-anchor="middle" textLength="8.12" lengthAdjust="spacingAndGlyphs" fill="#000">40</text>
<text x="696.23" y="985.40" font-size="7.4" text-anchor="middle" textLength="8.12" lengthAdjust="spacingAndGlyphs" fill="#000">60</text>
<text x="779.20" y="985.40" font-size="7.4" text-anchor="middle" textLength="8.12" lengthAdjust="spacingAndGlyphs" fill="#000">80</text>
<text x="626.00" y="1003.20" font-size="8.0" text-anchor="middle" textLength="68.43" lengthAdjust="spacingAndGlyphs" fill="#000">Retargetting Interval</text>
<text transform="translate(428.6,839.00) rotate(-90)" font-size="8.0" text-anchor="middle" textLength="85.74" lengthAdjust="spacingAndGlyphs" fill="#000">Relative Name Expiration</text>
<g clip-path="url(#clipf)" fill="none" stroke-width="2" stroke-linejoin="round" stroke-linecap="round"><polyline stroke="#000" points="454.8,896.2 460.9,887.8 467.6,881.1 471.6,878.9 479.8,863.3 484.2,880.0 488.7,868.9 492.0,925.6 496.4,913.3 500.9,910.0 505.3,907.8 512.0,903.3 518.7,905.6 525.3,904.4 531.5,904.8 546.4,904.8 552.5,901.3 558.7,897.7 564.8,898.2 570.9,899.9 575.3,899.1 581.4,897.3 587.6,899.1 593.7,900.8 599.0,902.2 603.3,902.2 607.7,904.0 612.1,904.3 616.5,909.6 620.9,912.2 626.1,916.6 633.1,923.2 640.1,928.9 647.2,933.8 653.3,937.6 658.5,939.7 668.7,941.3 677.4,943.1 684.4,944.0 687.8,945.3 691.3,942.6 695.7,941.9 700.9,943.9 708.7,943.9 715.7,940.1 724.4,935.2 731.3,933.2 738.3,930.4 747.0,927.1 755.7,926.2 764.4,921.7 771.3,921.0 775.2,914.4 780.0,915.8 787.0,915.8 792.2,914.0 796.6,914.0"/><polyline stroke="#f00" points="454.8,736.2 458.7,730.0 463.1,725.1 467.1,730.4 471.6,740.0 475.3,732.2 479.8,736.2 481.3,776.7 484.2,827.8 488.0,814.4 492.0,901.1 496.4,886.7 500.9,893.3 505.3,893.3 509.8,890.4 514.2,893.3 518.7,897.1 522.0,897.1 525.3,894.4 528.0,895.2 538.5,895.9 543.8,895.9 549.0,892.9 554.3,892.4 559.5,892.9 563.0,894.7 567.4,895.2 571.8,894.7 575.3,893.5 578.8,893.5 584.1,895.9 591.1,896.4 598.1,895.9 603.3,894.7 608.6,897.0 613.0,893.8 617.4,900.8 620.9,892.9 626.1,892.9 633.1,894.2 638.4,894.7 643.6,893.5 650.7,893.5 657.7,892.6 662.9,891.7 667.0,892.1 673.9,890.9 679.1,891.8 683.5,890.9 687.8,893.5 692.2,887.9 697.4,894.9 703.5,894.4 708.7,894.4 712.2,891.8 719.2,892.3 726.1,893.5 731.3,894.0 738.3,893.1 745.2,893.1 750.5,894.9 757.4,894.4 762.6,892.6 767.0,893.1 771.3,894.9 775.2,887.4 780.0,894.4 784.4,892.6 789.6,890.9 794.0,891.4 796.6,892.1"/><line stroke="#00f" stroke-linecap="butt" x1="455.5" y1="896.64" x2="796.5" y2="896.64"/></g>
<path d="M455.5,973.50h3.4M796.5,973.50h-3.4M455.5,935.07h3.4M796.5,935.07h-3.4M455.5,896.64h3.4M796.5,896.64h-3.4M455.5,858.21h3.4M796.5,858.21h-3.4M455.5,819.79h3.4M796.5,819.79h-3.4M455.5,781.36h3.4M796.5,781.36h-3.4M455.5,742.93h3.4M796.5,742.93h-3.4M455.5,704.50h3.4M796.5,704.50h-3.4M530.30,973.5v-3.4M530.30,704.5v3.4M613.27,973.5v-3.4M613.27,704.5v3.4M696.23,973.5v-3.4M696.23,704.5v3.4M779.20,973.5v-3.4M779.20,704.5v3.4" stroke="#555" stroke-width="0.8" fill="none"/>
<rect x="455.5" y="704.5" width="341.0" height="269.0" fill="none" stroke="#555" stroke-width="0.9"/>
<rect x="700.5" y="706.5" width="94.0" height="37.0" fill="#fff" stroke="#666" stroke-width="0.9"/>
<line x1="703.0" y1="713.00" x2="718.5" y2="713.00" stroke="#000" stroke-width="2"/>
<text x="721.30" y="716.50" font-size="8.0" text-anchor="start" textLength="25.33" lengthAdjust="spacingAndGlyphs" fill="#000">Historic</text>
<line x1="703.0" y1="725.10" x2="718.5" y2="725.10" stroke="#f00" stroke-width="2"/>
<text x="721.30" y="728.60" font-size="8.0" text-anchor="start" textLength="63.49" lengthAdjust="spacingAndGlyphs" fill="#000">Time-Ratio Update</text>
<line x1="703.0" y1="737.20" x2="718.5" y2="737.20" stroke="#00f" stroke-width="2"/>
<text x="721.30" y="740.70" font-size="8.0" text-anchor="start" textLength="26.19" lengthAdjust="spacingAndGlyphs" fill="#000">Desired</text>
<text x="125.30" y="324.9" font-size="19.5" style="font-family:'Liberation Serif',serif" fill="#111" stroke="#111" stroke-width="0.55">(a)</text>
<text x="152.34" y="324.9" font-size="15.9" textLength="124.66" lengthAdjust="spacingAndGlyphs" style="font-family:'Liberation Serif',serif" fill="#111" stroke="#111" stroke-width="0.55">Bitcoin, Difficulty</text>
<text x="525.40" y="324.9" font-size="19.5" style="font-family:'Liberation Serif',serif" fill="#111" stroke="#111" stroke-width="0.55">(b)</text>
<text x="553.54" y="324.9" font-size="15.9" textLength="143.46" lengthAdjust="spacingAndGlyphs" style="font-family:'Liberation Serif',serif" fill="#111" stroke="#111" stroke-width="0.55">Namecoin, Difficulty</text>
<text x="86.40" y="676.3" font-size="19.5" style="font-family:'Liberation Serif',serif" fill="#111" stroke="#111" stroke-width="0.55">(c)</text>
<text x="113.44" y="676.3" font-size="15.9" textLength="202.96" lengthAdjust="spacingAndGlyphs" style="font-family:'Liberation Serif',serif" fill="#111" stroke="#111" stroke-width="0.55">Bitcoin, Average Block Time</text>
<text x="485.40" y="676.3" font-size="19.5" style="font-family:'Liberation Serif',serif" fill="#111" stroke="#111" stroke-width="0.55">(d)</text>
<text x="513.54" y="676.3" font-size="15.9" textLength="222.26" lengthAdjust="spacingAndGlyphs" style="font-family:'Liberation Serif',serif" fill="#111" stroke="#111" stroke-width="0.55">Namecoin, Average Block Time</text>
<text x="98.30" y="1028.8" font-size="19.5" style="font-family:'Liberation Serif',serif" fill="#111" stroke="#111" stroke-width="0.55">(e)</text>
<text x="125.34" y="1028.8" font-size="15.9" textLength="179.46" lengthAdjust="spacingAndGlyphs" style="font-family:'Liberation Serif',serif" fill="#111" stroke="#111" stroke-width="0.55">Bitcoin, Name Expiration</text>
<text x="499.80" y="1028.8" font-size="19.5" style="font-family:'Liberation Serif',serif" fill="#111" stroke="#111" stroke-width="0.55">(f)</text>
<text x="524.68" y="1028.8" font-size="15.9" textLength="198.32" lengthAdjust="spacingAndGlyphs" style="font-family:'Liberation Serif',serif" fill="#111" stroke="#111" stroke-width="0.55">Namecoin, Name Expiration</text>
</svg></body></html>
